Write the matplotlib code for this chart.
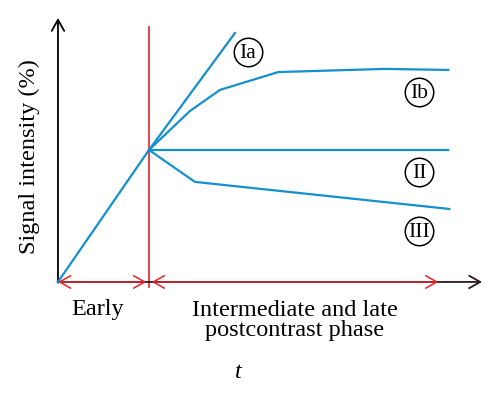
import matplotlib.pyplot as plt

# curve data (t: time, early phase ends at t=1; s: relative signal)
t_early = [0.0, 1.0]
s_early = [0.0, 1.0]
t_ia = [1.0, 1.945]
s_ia = [1.0, 1.886]
t_ib = [1.0, 1.45, 1.78, 2.42, 3.59, 4.29]
s_ib = [1.0, 1.295, 1.455, 1.59, 1.614, 1.606]
t_ii = [1.0, 4.29]
s_ii = [1.0, 1.0]
t_iii = [1.0, 1.505, 4.30]
s_iii = [1.0, 0.758, 0.553]

curve_labels = ["Ia", "Ib", "II", "III"]
label_t = [2.088, 3.967, 3.967, 3.967]
label_s = [1.742, 1.439, 0.833, 0.386]

blue = "#1590cf"
red = "#e2232b"
serif = "Liberation Serif"

fig = plt.figure(figsize=(5, 4.03), dpi=100)
ax = fig.add_axes([0, 0, 1, 1])
ax.set_xlim(-0.637, 4.857)
ax.set_ylim(-0.917, 2.136)
ax.axis("off")

# red phase markers
ax.plot([1.0, 1.0], [-0.038, 1.932], color=red, lw=1.2, zorder=2)
arrow_style = "<->,head_length=0.8,head_width=0.45"
ax.annotate("", xy=(0.0, 0), xytext=(0.97, 0),
            arrowprops=dict(arrowstyle=arrow_style, color=red, lw=1.1,
                            shrinkA=0, shrinkB=0), zorder=3)
ax.annotate("", xy=(1.03, 0), xytext=(4.18, 0),
            arrowprops=dict(arrowstyle=arrow_style, color=red, lw=1.1,
                            shrinkA=0, shrinkB=0), zorder=3)

# axes arrows
ax.annotate("", xy=(0, 2.0), xytext=(0, -0.005),
            arrowprops=dict(arrowstyle="->,head_length=0.8,head_width=0.45",
                            color="black", lw=1.3, shrinkA=0, shrinkB=0))
ax.annotate("", xy=(4.66, 0), xytext=(-0.005, 0),
            arrowprops=dict(arrowstyle="->,head_length=0.8,head_width=0.45",
                            color="#2a1a1a", lw=1.3, shrinkA=0, shrinkB=0),
            zorder=2)

# curves
for tt, ss in [(t_early, s_early), (t_ia, s_ia), (t_ib, s_ib),
               (t_ii, s_ii), (t_iii, s_iii)]:
    ax.plot(tt, ss, color=blue, lw=1.6, zorder=4)

# circled labels
for lab, x, y in zip(curve_labels, label_t, label_s):
    ax.plot(x, y, "o", ms=20.5, mfc="none", mec="black", mew=1.1)
    ax.text(x, y - 0.008, lab, family=serif, fontsize=15.5,
            ha="center", va="center")

ax.text(0.44, -0.212, "Early", family=serif, fontsize=17.5,
        ha="center", va="center")
ax.text(2.604, -0.29, "Intermediate and late\npostcontrast phase",
        family=serif, fontsize=17.5, ha="center", va="center",
        linespacing=0.95)
ax.text(1.978, -0.689, "t", family=serif, fontsize=17.5, style="italic",
        ha="center", va="center")
ax.text(-0.31, 0.947, "Signal intensity (%)", family=serif, fontsize=17.5,
        rotation=90, ha="center", va="center")

fig.savefig("out.png", dpi=100)
